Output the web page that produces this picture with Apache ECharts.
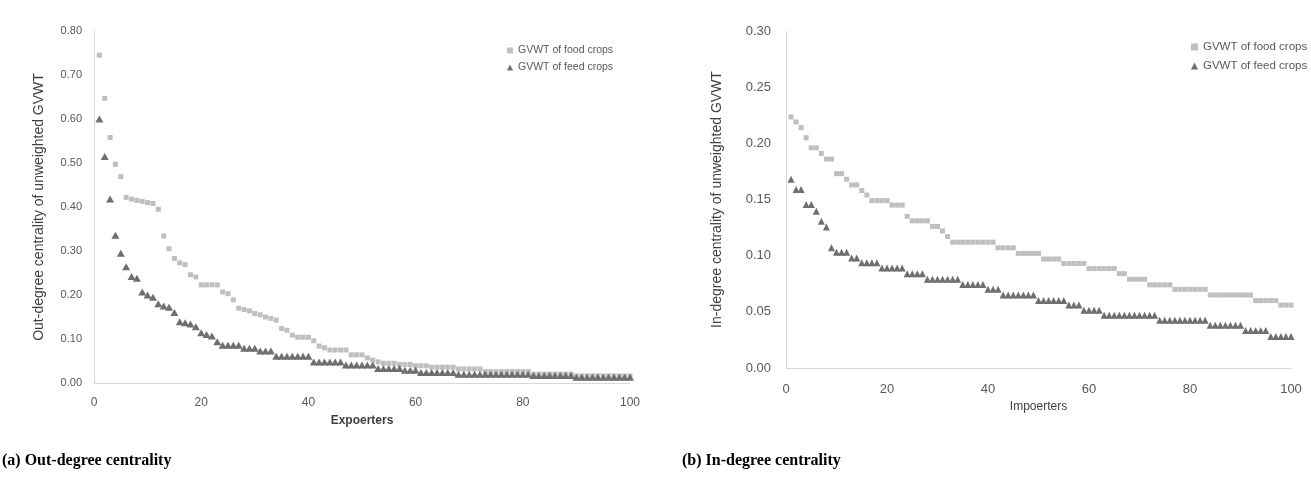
<!DOCTYPE html>
<html><head><meta charset="utf-8">
<script src="https://cdn.jsdelivr.net/npm/echarts@6/dist/echarts.min.js"></script>
<style>html,body{margin:0;padding:0;background:#fff;}#c{width:1311px;height:478px;}</style>
</head><body><div id="c"></div>
<script>
const seriesNames = ['GVWT of food crops', 'GVWT of feed crops'];
const xTickValues = [0, 20, 40, 60, 80, 100];

// (a) Out-degree centrality, exporters ranked 1..100
const outFood = [
 0.745,0.647,0.558,0.497,0.469,0.422,0.418,0.415,0.413,0.410,
 0.408,0.395,0.334,0.305,0.283,0.273,0.269,0.246,0.241,0.223,
 0.223,0.223,0.223,0.207,0.203,0.189,0.170,0.167,0.164,0.158,
 0.155,0.150,0.147,0.143,0.124,0.120,0.109,0.104,0.104,0.104,
 0.096,0.084,0.080,0.075,0.075,0.075,0.075,0.064,0.064,0.064,
 0.057,0.052,0.048,0.045,0.045,0.045,0.042,0.042,0.042,0.039,
 0.039,0.039,0.036,0.036,0.036,0.036,0.036,0.032,0.032,0.032,
 0.032,0.032,0.026,0.026,0.026,0.026,0.026,0.026,0.026,0.026,
 0.026,0.020,0.020,0.020,0.020,0.020,0.020,0.020,0.020,0.016,
 0.016,0.016,0.016,0.016,0.016,0.016,0.016,0.016,0.016,0.016
];
const outFeed = [
 0.600,0.515,0.418,0.336,0.295,0.264,0.242,0.238,0.207,0.200,
 0.195,0.180,0.175,0.172,0.160,0.139,0.137,0.134,0.128,0.114,
 0.110,0.107,0.094,0.086,0.086,0.086,0.086,0.079,0.079,0.079,
 0.073,0.073,0.073,0.061,0.061,0.061,0.061,0.061,0.061,0.061,
 0.048,0.048,0.048,0.048,0.048,0.048,0.041,0.041,0.041,0.041,
 0.041,0.041,0.033,0.033,0.033,0.033,0.033,0.029,0.029,0.029,
 0.024,0.024,0.024,0.024,0.024,0.024,0.024,0.020,0.020,0.020,
 0.020,0.020,0.020,0.020,0.020,0.020,0.020,0.020,0.020,0.020,
 0.020,0.017,0.017,0.017,0.017,0.017,0.017,0.017,0.017,0.013,
 0.013,0.013,0.013,0.013,0.013,0.013,0.013,0.013,0.013,0.013
];

// (b) In-degree centrality, importers ranked 1..100
const inFood = [
 0.2235,0.219,0.214,0.205,0.196,0.196,0.191,0.186,0.186,0.173,
 0.173,0.168,0.163,0.163,0.158,0.154,0.149,0.149,0.149,0.149,
 0.145,0.145,0.145,0.135,0.131,0.131,0.131,0.131,0.126,0.126,
 0.122,0.117,0.112,0.112,0.112,0.112,0.112,0.112,0.112,0.112,
 0.112,0.107,0.107,0.107,0.107,0.102,0.102,0.102,0.102,0.102,
 0.097,0.097,0.097,0.097,0.093,0.093,0.093,0.093,0.093,0.0885,
 0.0885,0.0885,0.0885,0.0885,0.0885,0.084,0.084,0.079,0.079,0.079,
 0.079,0.074,0.074,0.074,0.074,0.074,0.070,0.070,0.070,0.070,
 0.070,0.070,0.070,0.065,0.065,0.065,0.065,0.065,0.065,0.065,
 0.065,0.065,0.060,0.060,0.060,0.060,0.060,0.056,0.056,0.056
];
const inFeed = [
 0.168,0.159,0.159,0.1455,0.1455,0.1395,0.1306,0.1256,0.107,0.103,
 0.103,0.103,0.098,0.098,0.0936,0.0936,0.0936,0.0936,0.089,0.089,
 0.089,0.089,0.089,0.084,0.084,0.084,0.084,0.079,0.079,0.079,
 0.079,0.079,0.079,0.079,0.0743,0.0743,0.0743,0.0743,0.0743,0.070,
 0.070,0.070,0.065,0.065,0.065,0.065,0.065,0.065,0.065,0.060,
 0.060,0.060,0.060,0.060,0.060,0.056,0.056,0.056,0.0514,0.0514,
 0.0514,0.0514,0.047,0.047,0.047,0.047,0.047,0.047,0.047,0.047,
 0.047,0.047,0.047,0.0425,0.0425,0.0425,0.0425,0.0425,0.0425,0.0425,
 0.0425,0.0425,0.0425,0.038,0.038,0.038,0.038,0.038,0.038,0.038,
 0.0334,0.0334,0.0334,0.0334,0.0334,0.028,0.028,0.028,0.028,0.028
];

const FOOD = '#bfbfbf', FEED = '#6f6f6f';
const AX = '#d9d9d9', TXT = '#595959';
const FONT = '"Liberation Sans", Arial, sans-serif';
const toPairs = arr => arr.map((v, i) => [i + 1, v]);

const chart = echarts.init(document.getElementById('c'), null, {renderer: 'canvas'});

function xAxisCfg(idx, name, bold, fs, margin, gap) {
  return {
    type: 'value', gridIndex: idx, min: 0, max: 100, interval: 20,
    name: name, nameLocation: 'middle', nameGap: gap,
    nameTextStyle: {color: '#404040', fontSize: 12, fontFamily: FONT, fontWeight: bold ? 'bold' : 'normal'},
    axisLine: {show: true, lineStyle: {color: AX, width: 1}},
    axisTick: {show: false}, splitLine: {show: false},
    axisLabel: {color: TXT, fontSize: fs, fontFamily: FONT, margin: margin}
  };
}
function yAxisCfg(idx, name, max, interval, fs, gap, margin) {
  return {
    type: 'value', gridIndex: idx, min: 0, max: max, interval: interval,
    name: name, nameLocation: 'middle', nameGap: gap,
    nameTextStyle: {color: '#404040', fontSize: 14, fontFamily: FONT},
    axisLine: {show: true, lineStyle: {color: AX, width: 1}},
    axisTick: {show: false}, splitLine: {show: false},
    axisLabel: {color: TXT, fontSize: fs, fontFamily: FONT, margin: margin,
      formatter: v => v.toFixed(2)}
  };
}

chart.setOption({
  animation: false,
  backgroundColor: '#fff',
  grid: [
    {left: 94, top: 31, width: 536, height: 352},
    {left: 786, top: 31, width: 505, height: 337}
  ],
  xAxis: [xAxisCfg(0, 'Expoerters', true, 12, 14, 32), xAxisCfg(1, 'Impoerters', false, 13, 15, 31)],
  yAxis: [
    yAxisCfg(0, 'Out-degree centrality of unweighted GVWT', 0.8, 0.1, 11, 48, 12),
    yAxisCfg(1, 'In-degree centrality of unweighted GVWT', 0.3, 0.05, 13, 62, 15)
  ],
  legend: [
    {orient: 'vertical', left: 502, top: 40, itemGap: 6, itemWidth: 6, itemHeight: 6,
     data: seriesNames, textStyle: {color: TXT, fontSize: 10.5, fontFamily: FONT}},
    {orient: 'vertical', left: 1186, top: 36, itemGap: 7, itemWidth: 7, itemHeight: 7,
     data: seriesNames, textStyle: {color: TXT, fontSize: 11.5, fontFamily: FONT}}
  ],
  series: [
    {name: seriesNames[0], type: 'scatter', xAxisIndex: 0, yAxisIndex: 0, symbol: 'rect', symbolSize: [5, 5],
     itemStyle: {color: FOOD, opacity: 1}, data: toPairs(outFood)},
    {name: seriesNames[1], type: 'scatter', xAxisIndex: 0, yAxisIndex: 0, symbol: 'triangle', symbolSize: [8, 7],
     itemStyle: {color: FEED, opacity: 1}, data: toPairs(outFeed)},
    {name: seriesNames[0], type: 'scatter', xAxisIndex: 1, yAxisIndex: 1, symbol: 'rect', symbolSize: [5, 5],
     itemStyle: {color: FOOD, opacity: 1}, data: toPairs(inFood)},
    {name: seriesNames[1], type: 'scatter', xAxisIndex: 1, yAxisIndex: 1, symbol: 'triangle', symbolSize: [7, 7],
     itemStyle: {color: FEED, opacity: 1}, data: toPairs(inFeed)}
  ],
  graphic: [
    {type: 'text', left: 2, top: 453, style: {text: '(a) Out-degree centrality', fill: '#000',
      font: 'bold 16px "Liberation Serif", "Times New Roman", serif'}},
    {type: 'text', left: 682, top: 453, style: {text: '(b) In-degree centrality', fill: '#000',
      font: 'bold 16px "Liberation Serif", "Times New Roman", serif'}}
  ]
});
</script>
</body></html>
